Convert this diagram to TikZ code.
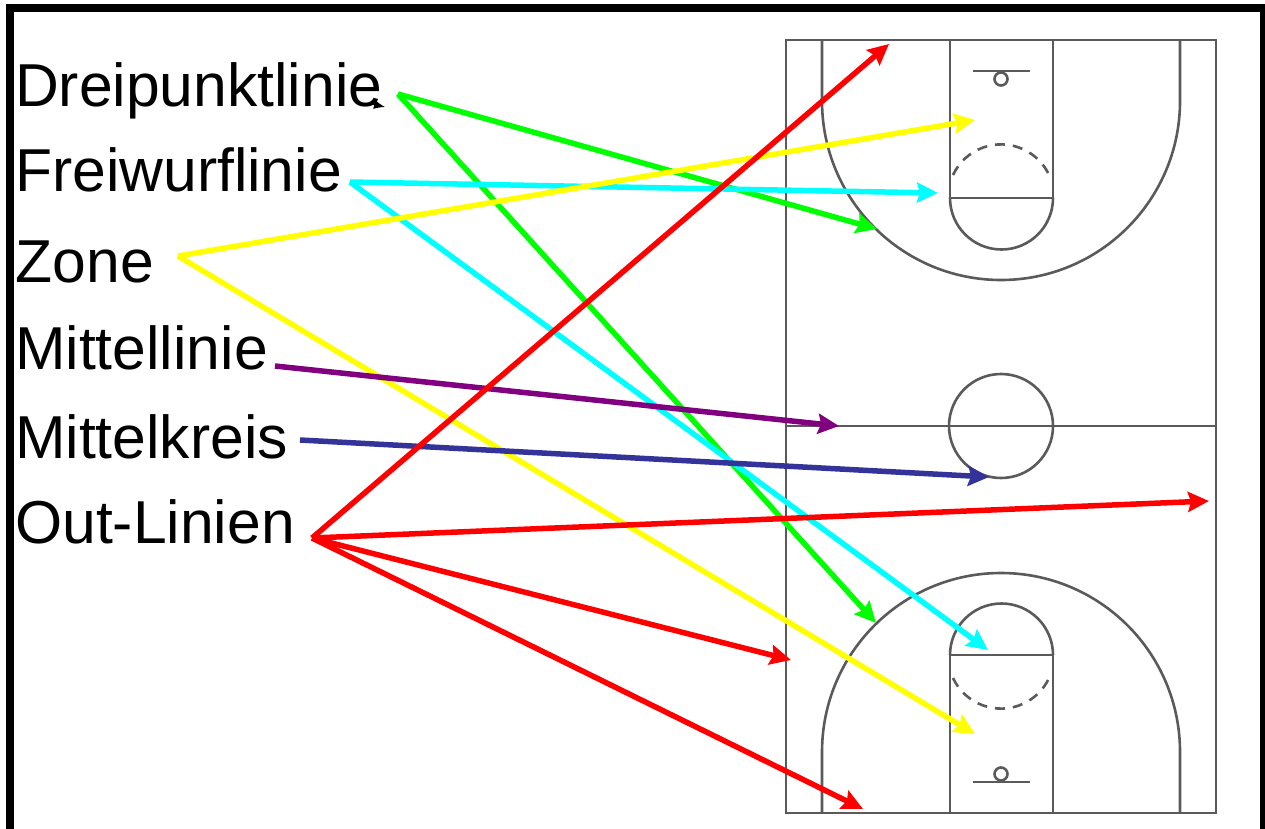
\documentclass[tikz,border=0pt]{standalone}
\usepackage{fontspec}
\setmainfont{Liberation Sans}
\usetikzlibrary{arrows.meta}
\definecolor{feld-grau}{HTML}{5a5a5a}
\definecolor{pfeil-gruen}{HTML}{00ff00}
\definecolor{pfeil-cyan}{HTML}{00ffff}
\definecolor{pfeil-gelb}{HTML}{ffff00}
\definecolor{pfeil-lila}{HTML}{800080}
\definecolor{pfeil-blau}{HTML}{333399}
\definecolor{pfeil-rot}{HTML}{ff0000}
\begin{document}
\begin{tikzpicture}[x=1pt, y=-1pt,
    linie/.style={draw=feld-grau, line width=2.6pt},
    pfeil/.style={line width=5.5pt, -{Stealth[length=21pt,width=20pt,inset=3pt]}},
    beschriftung/.style={anchor=base west, inner sep=0pt, font=\fontsize{60.6}{60}\selectfont}]
    \useasboundingbox (0,0) rectangle (1265,829);

    % Rahmen
    \draw[black, line width=7.5pt] (9.75,829) -- (9.75,8) -- (1263.5,8) -- (1263.5,829);

    % Spielfeld
    \draw[linie] (786,40) rectangle (1216,813);
    \draw[linie] (786,426) -- (1216,426);
    \draw[linie] (1001,426) circle (52);

    % Beide Haelften: \y = Grundlinie, \s = Richtung
    \foreach \y/\s in {40/1,813/-1} {
        \draw[linie] (822,\y) -- (822,{\y+\s*61}) arc[start angle=180, end angle={180-\s*180}, radius=179] -- (1180,\y);
        \draw[linie] (950,\y) -- (950,{\y+\s*158}) (1053,\y) -- (1053,{\y+\s*158});
        \draw[linie] (950,{\y+\s*158}) -- (1053,{\y+\s*158});
        \draw[linie] (950,{\y+\s*158}) arc[start angle=180, end angle={180-\s*180}, radius=51.5];
        \draw[linie, dash pattern=on 10pt off 8pt] (953,{\y+\s*135}) arc[start angle={180+\s*25}, end angle={180+\s*155}, radius=53];
        \draw[linie] (973,{\y+\s*31}) -- (1030,{\y+\s*31});
        \draw[linie] (1001,{\y+\s*39}) circle (6.5);
    }

    % Beschriftungen
    \node[beschriftung] (dreipunktlinie) at (15,107) {Dreipunktlinie};
    \node[beschriftung] (freiwurflinie) at (15,192) {Freiwurflinie};
    \node[beschriftung] (zone) at (15.5,282) {Zone};
    \node[beschriftung] (mittellinie) at (15,369) {Mittellinie};
    \node[beschriftung] (mittelkreis) at (15,458) {Mittelkreis};
    \node[beschriftung] (outlinien) at (15,543) {Out-Linien};

    % Start- und Zielpunkte der Pfeile
    \coordinate (s-drei) at (398,94);
    \coordinate (s-frei) at (350,182);
    \coordinate (s-zone) at (178,256);
    \coordinate (s-mlinie) at (275,366);
    \coordinate (s-mkreis) at (300,440);
    \coordinate (s-out) at (312,538);
    \coordinate (z-drei-o) at (877,229);
    \coordinate (z-drei-u) at (876,623);
    \coordinate (z-frei-o) at (938,193);
    \coordinate (z-frei-u) at (988,650);
    \coordinate (z-zone-o) at (975,120);
    \coordinate (z-zone-u) at (975,734);
    \coordinate (z-mlinie) at (839,426);
    \coordinate (z-mkreis) at (989,477);
    \coordinate (z-out-a) at (889,44);
    \coordinate (z-out-b) at (1209,501);
    \coordinate (z-out-c) at (791,660);
    \coordinate (z-out-d) at (863,809);

    % Pfeile
    \foreach \von/\nach/\farbe in {
        s-drei/z-drei-o/pfeil-gruen, s-drei/z-drei-u/pfeil-gruen,
        s-frei/z-frei-o/pfeil-cyan, s-frei/z-frei-u/pfeil-cyan,
        s-zone/z-zone-o/pfeil-gelb, s-zone/z-zone-u/pfeil-gelb,
        s-mlinie/z-mlinie/pfeil-lila, s-mkreis/z-mkreis/pfeil-blau,
        s-out/z-out-a/pfeil-rot, s-out/z-out-b/pfeil-rot,
        s-out/z-out-c/pfeil-rot, s-out/z-out-d/pfeil-rot} {
        \draw[pfeil, \farbe] (\von) -- (\nach);
    }

    % kleiner schwarzer Pfeil am Wortende
    \coordinate (k-start) at (372,104);
    \coordinate (k-ende) at (385,107);
    \draw[black, line width=1pt, -{Latex[length=11pt,width=9pt]}] (k-start) -- (k-ende);
\end{tikzpicture}
\end{document}
